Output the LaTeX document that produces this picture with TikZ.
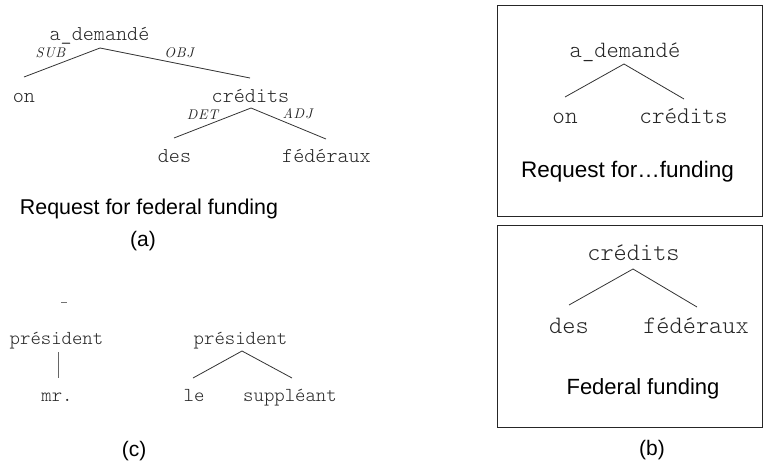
\documentclass[tikz,border=0pt]{standalone}
\usepackage{fontspec}
\setmainfont{Liberation Sans}
\newfontfamily\mono{lmmonolt10-regular.otf}
\newfontfamily\lblfont{lmroman10-italic.otf}[LetterSpace=5]
\begin{document}
\begin{tikzpicture}[x=1pt,y=-1pt,
  tt/.style={font=\mono\fontsize{#1}{#1}\selectfont, text=black!85, inner sep=0pt, anchor=base},
  sf/.style={font=\fontsize{#1}{#1}\selectfont, inner sep=0pt, anchor=base},
  rel/.style={font=\lblfont\fontsize{14}{14}\selectfont, text=black!85, inner sep=0pt, anchor=base},
  branch/.style={draw=black!80, line width=0.8pt},
  panel/.style={draw=black!85, line width=1pt}]
\useasboundingbox (0,0) rectangle (763,463);

% ---------- (a) labelled dependency tree ----------
\node[tt=21.1] (a-root) at (99.5,40) {a\_demandé};
\node[tt=21.1] (a-on)   at (24,102)  {on};
\node[tt=21.1] (a-cr)   at (250.5,102) {crédits};
\node[tt=21.1] (a-des)  at (174.5,162) {des};
\node[tt=21.1] (a-fed)  at (326.5,162) {fédéraux};
\coordinate (a-root-b) at (100,48);
\coordinate (a-on-t)   at (24,77);
\coordinate (a-cr-t)   at (250,78);
\coordinate (a-cr-b)   at (251,108);
\coordinate (a-des-t)  at (174,138);
\coordinate (a-fed-t)  at (326,139);
\draw[branch] (a-root-b) -- (a-on-t);
\draw[branch] (a-root-b) -- (a-cr-t);
\draw[branch] (a-cr-b) -- (a-des-t);
\draw[branch] (a-cr-b) -- (a-fed-t);
\node[rel] (l-sub) at (50.5,57)  {SUB};
\node[rel] (l-obj) at (179,57)   {OBJ};
\node[rel] (l-det) at (202.5,119) {DET};
\node[rel] (l-adj) at (297.5,118) {ADJ};
\node[sf=21.4] (a-cap) at (149,214) {Request for federal funding};
\node[sf=21] (a-tag) at (143,246) {(a)};

% ---------- (b) two boxed subtrees ----------
\draw[panel] (497,5) rectangle (762,216);
\draw[panel] (497,225) rectangle (762,427);

\node[tt=23.4] (b1-root) at (625,57)  {a\_demandé};
\node[tt=24]   (b1-on)   at (565,123) {on};
\node[tt=24]   (b1-cr)   at (683.5,123) {crédits};
\coordinate (b1-root-b) at (624,64);
\coordinate (b1-on-t)   at (565,97);
\coordinate (b1-cr-t)   at (684,99);
\draw[branch] (b1-root-b) -- (b1-on-t);
\draw[branch] (b1-root-b) -- (b1-cr-t);
\node[sf=22.5] (b1-cap) at (627.5,177) {Request for…funding};

\node[tt=25.1] (b2-root) at (633.5,260) {crédits};
\node[tt=25.1] (b2-des)  at (569,333)   {des};
\node[tt=25.1] (b2-fed)  at (696,333)   {fédéraux};
\coordinate (b2-root-b) at (633,269);
\coordinate (b2-des-t)  at (569,305);
\coordinate (b2-fed-t)  at (697,307);
\draw[branch] (b2-root-b) -- (b2-des-t);
\draw[branch] (b2-root-b) -- (b2-fed-t);
\node[sf=22] (b2-cap) at (643,394) {Federal funding};
\node[sf=21] (b-tag) at (652,455) {(b)};

% ---------- (c) two président subtrees ----------
\draw[draw=black!55, line width=0.8pt] (61,302) -- (67,302);

\node[tt=19.8] (c1-root) at (56.5,344) {président};
\node[tt=19.8] (c1-mr)   at (57,401)   {mr.};
\coordinate (c1-root-b) at (58,352);
\coordinate (c1-mr-t)   at (58,378);
\draw[draw=black!60, line width=1pt] (c1-root-b) -- (c1-mr-t);

\node[tt=19.8] (c2-root) at (240.5,344) {président};
\node[tt=19.8] (c2-le)   at (194,401)   {le};
\node[tt=19.8] (c2-sup)  at (290,401)   {suppléant};
\coordinate (c2-root-b) at (242,351);
\coordinate (c2-le-t)   at (193,378);
\coordinate (c2-sup-t)  at (292,378);
\draw[branch] (c2-root-b) -- (c2-le-t);
\draw[branch] (c2-root-b) -- (c2-sup-t);
\node[sf=21] (c-tag) at (134,456) {(c)};
\end{tikzpicture}
\end{document}
